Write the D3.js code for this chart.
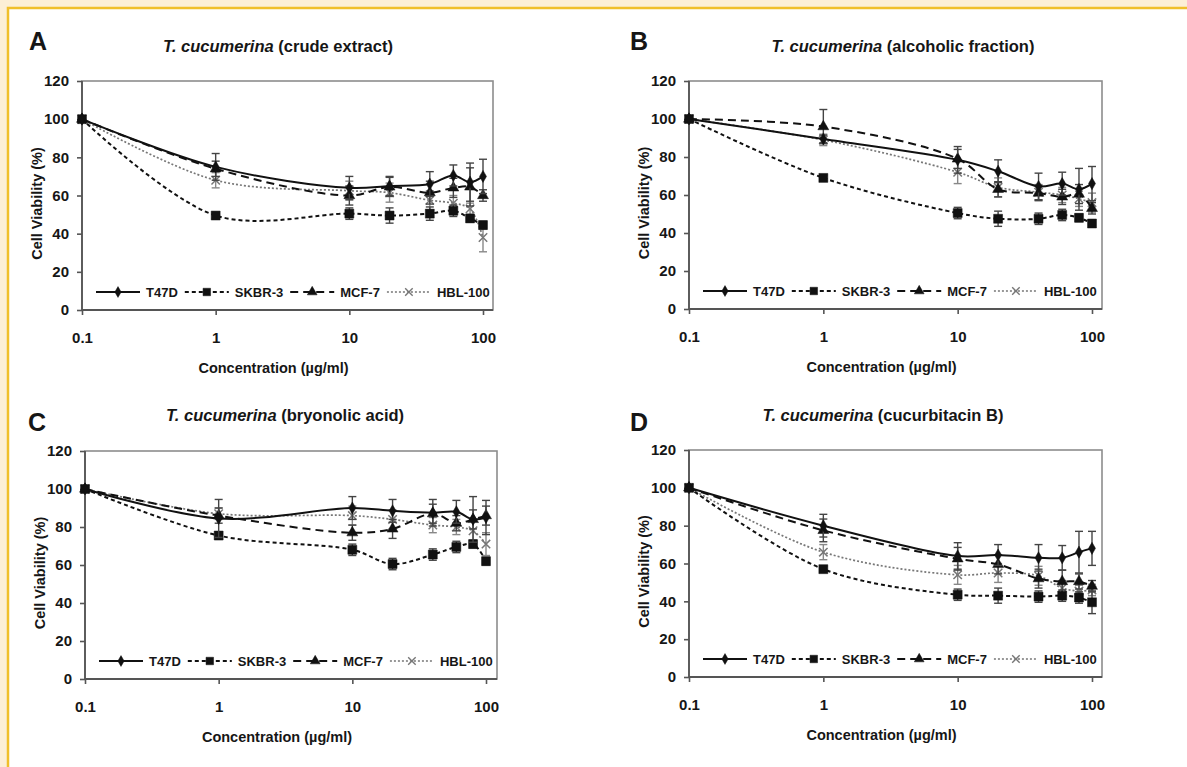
<!DOCTYPE html>
<html>
<head>
<meta charset="utf-8">
<script src="https://cdn.jsdelivr.net/npm/d3@7"></script>
<style>
  body { margin: 0; background: #fff; }
  svg { display: block; font-family: "Liberation Sans", Arial, sans-serif; }
</style>
</head>
<body>
<svg id="chart" width="1187" height="767"></svg>
<script>
// concentrations (µg/ml) and cell lines
const conc = [0.1, 1, 10, 20, 40, 60, 80, 100];
const cellLines = ["T47D", "SKBR-3", "MCF-7", "HBL-100"];
const yTicks = [0, 20, 40, 60, 80, 100, 120];
const xTicks = [0.1, 1, 10, 100];

// A - crude extract
const crudeT47D   = [100, 75, 64, 65, 66, 70.5, 67, 70];
const crudeSKBR3  = [100, 49.5, 50.5, 49.5, 50.5, 52, 48, 44.5];
const crudeMCF7   = [100, 74, 60, 64.5, 61.5, 64, 64.5, 60];
const crudeHBL100 = [100, 68, 62.5, 61.5, 57.5, 56, 53, 38];
const crudeT47DErr   = [0, 7, 6, 5, 6.5, 5.5, 10, 9];
const crudeSKBR3Err  = [0, 1.5, 3, 4, 3.5, 3, 2, 2];
const crudeMCF7Err   = [0, 4, 5, 5, 6, 5, 10, 3];
const crudeHBL100Err = [0, 4, 5, 5, 5, 4, 3, 7.5];

// B - alcoholic fraction
const alcT47D   = [100, 89.5, 78.5, 72.5, 64.5, 66, 63, 66];
const alcSKBR3  = [100, 69, 50.5, 47.5, 47.5, 49.5, 48, 45];
const alcMCF7   = [100, 96, 79, 63, 61, 59, 60.5, 53];
const alcHBL100 = [100, 89, 72, 64, 61.5, 60, 58, 56];
const alcT47DErr   = [0, 2, 7, 6, 7, 6, 11, 9];
const alcSKBR3Err  = [0, 1.5, 3, 4, 3, 3, 2, 2];
const alcMCF7Err   = [0, 9, 5, 4, 4, 4, 5, 3];
const alcHBL100Err = [0, 3, 6, 5, 4, 4, 4, 5];

// C - bryonolic acid
const bryT47D   = [100, 84.5, 90, 88.5, 87.5, 88, 84, 85];
const brySKBR3  = [100, 75.5, 68, 60.5, 65.5, 69.5, 71, 62];
const bryMCF7   = [100, 86, 77, 79, 87, 82, 84, 86];
const bryHBL100 = [100, 87, 86, 84, 81, 80, 78, 71];
const bryT47DErr   = [0, 10, 6, 6, 7, 6, 12, 9];
const brySKBR3Err  = [0, 2, 3, 3, 3, 3, 2, 2];
const bryMCF7Err   = [0, 4, 4, 5, 5, 4, 5, 5];
const bryHBL100Err = [0, 3, 5, 5, 4, 4, 5, 6];

// D - cucurbitacin B
const cucT47D   = [100, 80, 64, 64.5, 63, 63, 66, 68];
const cucSKBR3  = [100, 57, 43.5, 43, 42.5, 43, 42, 39.5];
const cucMCF7   = [100, 77.5, 62.5, 59.5, 52, 50.5, 50.5, 48];
const cucHBL100 = [100, 66, 54, 55, 53.5, 47, 45.5, 46];
const cucT47DErr   = [0, 6, 7, 5.5, 7, 6.5, 11, 9];
const cucSKBR3Err  = [0, 1.5, 3, 4, 3, 3, 3, 6];
const cucMCF7Err   = [0, 6, 6, 5, 5, 6, 4, 3];
const cucHBL100Err = [0, 4, 5, 5, 5, 4, 3, 3];

const panels = [
  {letter: "A", sub: "crude extract",
   values: [crudeT47D, crudeSKBR3, crudeMCF7, crudeHBL100],
   errors: [crudeT47DErr, crudeSKBR3Err, crudeMCF7Err, crudeHBL100Err],
   left: 82, right: 493, x100: 483, top: 81, bottom: 310,
   letterX: 29, letterY: 50, titleX: 278, titleY: 52},
  {letter: "B", sub: "alcoholic fraction",
   values: [alcT47D, alcSKBR3, alcMCF7, alcHBL100],
   errors: [alcT47DErr, alcSKBR3Err, alcMCF7Err, alcHBL100Err],
   left: 689, right: 1102, x100: 1092, top: 81, bottom: 309,
   letterX: 630, letterY: 50, titleX: 903, titleY: 52},
  {letter: "C", sub: "bryonolic acid",
   values: [bryT47D, brySKBR3, bryMCF7, bryHBL100],
   errors: [bryT47DErr, brySKBR3Err, bryMCF7Err, bryHBL100Err],
   left: 85, right: 497, x100: 486, top: 451, bottom: 679,
   letterX: 28, letterY: 431, titleX: 285, titleY: 421},
  {letter: "D", sub: "cucurbitacin B",
   values: [cucT47D, cucSKBR3, cucMCF7, cucHBL100],
   errors: [cucT47DErr, cucSKBR3Err, cucMCF7Err, cucHBL100Err],
   left: 689, right: 1102, x100: 1092, top: 450, bottom: 677,
   letterX: 630, letterY: 431, titleX: 883, titleY: 421}
];

// line / marker look for each cell line
const styles = [
  {color: "#111", dash: null,  width: 2, symbol: d3.symbolDiamond, size: 42, fill: true},
  {color: "#111", dash: "4,3", width: 2, symbol: d3.symbolSquare,  size: 80, fill: true},
  {color: "#111", dash: "8,5", width: 2, symbol: d3.symbolTriangle, size: 52, fill: true},
  {color: "#777", dash: "2,2", width: 1.7, symbol: d3.symbolTimes || d3.symbolCross, size: 48, fill: false}
];

const svg = d3.select("#chart");

// page frame: cream band with gold rule on top and left
svg.append("rect").attr("width", 1187).attr("height", 767).attr("fill", "#fcefd6");
svg.append("rect").attr("x", 9).attr("y", 9).attr("width", 1178).attr("height", 758).attr("fill", "#fff");
svg.append("path").attr("d", "M8,767V8H1187").attr("fill", "none")
  .attr("stroke", "#f0bf2a").attr("stroke-width", 2.5);

panels.forEach(drawPanel);

function drawPanel(p) {
  const g = svg.append("g");

  const x = d3.scaleLog().domain([0.1, 100]).range([p.left, p.x100]);
  const y = d3.scaleLinear().domain([0, 120]).range([p.bottom, p.top]);

  // plot frame
  g.append("rect")
    .attr("x", p.left).attr("y", p.top)
    .attr("width", p.right - p.left).attr("height", p.bottom - p.top)
    .attr("fill", "#fff").attr("stroke", "#8d8d8d").attr("stroke-width", 1.6);

  // axes
  const yAxis = g.append("g")
    .attr("transform", `translate(${p.left},0)`)
    .call(d3.axisLeft(y).tickValues(yTicks).tickSize(5).tickPadding(8).tickSizeOuter(0));
  const xAxis = g.append("g")
    .attr("transform", `translate(0,${p.bottom})`)
    .call(d3.axisBottom(x).tickValues(xTicks).tickFormat(d => String(d)).tickSize(5).tickPadding(17).tickSizeOuter(0));
  [yAxis, xAxis].forEach(a => {
    a.select(".domain").remove();
    a.selectAll("line").attr("stroke", "#555").attr("stroke-width", 1.6);
    a.selectAll("text").attr("font-size", 15).attr("font-weight", "bold").attr("fill", "#161616")
      .attr("font-family", "Liberation Sans, Arial, sans-serif");
  });
  g.append("line").attr("x1", p.left).attr("x2", p.left).attr("y1", p.top).attr("y2", p.bottom)
    .attr("stroke", "#555").attr("stroke-width", 1.8);
  g.append("line").attr("x1", p.left).attr("x2", p.right).attr("y1", p.bottom).attr("y2", p.bottom)
    .attr("stroke", "#555").attr("stroke-width", 1.8);

  // panel letter
  g.append("text").attr("x", p.letterX).attr("y", p.letterY)
    .attr("font-size", 25).attr("font-weight", "bold").attr("fill", "#161616").text(p.letter);

  // title
  const t = g.append("text").attr("x", p.titleX).attr("y", p.titleY)
    .attr("text-anchor", "middle").attr("font-size", 16.5).attr("font-weight", "bold").attr("fill", "#161616");
  t.append("tspan").attr("font-style", "italic").text("T. cucumerina");
  t.append("tspan").text(" (" + p.sub + ")");

  // axis titles
  g.append("text")
    .attr("x", (p.left + p.right) / 2 - 14).attr("y", p.bottom + 63)
    .attr("text-anchor", "middle").attr("font-size", 14.5).attr("font-weight", "bold").attr("fill", "#161616")
    .text("Concentration (\u00b5g/ml)");
  const yc = (p.top + p.bottom) / 2 + 8;
  g.append("text")
    .attr("transform", `translate(${p.left - 40},${yc}) rotate(-90)`)
    .attr("text-anchor", "middle").attr("font-size", 14.5).attr("font-weight", "bold").attr("fill", "#161616")
    .text("Cell Viability (%)");

  const line = d3.line()
    .x((d, i) => x(conc[i]))
    .y(d => y(d))
    .curve(d3.curveCatmullRom.alpha(0.5));

  // draw back-to-front: HBL-100, MCF-7, SKBR-3, T47D
  [3, 2, 1, 0].forEach(k => {
    const s = styles[k];
    const vals = p.values[k];
    const errs = p.errors[k];
    const sg = g.append("g").attr("class", "series");

    // error bars
    const eb = sg.selectAll("g.err").data(vals.map((v, i) => ({v, e: errs[i], c: conc[i]})).filter(d => d.e > 0))
      .enter().append("g").attr("class", "err")
      .attr("stroke", k === 3 ? "#888" : "#444").attr("stroke-width", 1.4);
    eb.append("line").attr("x1", d => x(d.c)).attr("x2", d => x(d.c))
      .attr("y1", d => y(d.v - d.e)).attr("y2", d => y(d.v + d.e));
    eb.append("line").attr("x1", d => x(d.c) - 4).attr("x2", d => x(d.c) + 4)
      .attr("y1", d => y(d.v + d.e)).attr("y2", d => y(d.v + d.e));
    eb.append("line").attr("x1", d => x(d.c) - 4).attr("x2", d => x(d.c) + 4)
      .attr("y1", d => y(d.v - d.e)).attr("y2", d => y(d.v - d.e));

    sg.append("path").attr("d", line(vals))
      .attr("fill", "none").attr("stroke", s.color).attr("stroke-width", s.width)
      .attr("stroke-dasharray", s.dash);

    sg.selectAll("path.mark").data(vals).enter().append("path")
      .attr("class", "mark")
      .attr("transform", (d, i) => `translate(${x(conc[i])},${y(d)})`)
      .attr("d", d3.symbol(s.symbol, s.size))
      .attr("fill", s.fill ? s.color : "none")
      .attr("stroke", s.color).attr("stroke-width", s.fill ? 0.5 : 1.5);
  });

  // legend
  const lg = g.append("g").attr("transform", `translate(${p.left + 14},${p.bottom - 18})`);
  let cx = 0;
  cellLines.forEach((name, k) => {
    const s = styles[k];
    lg.append("line").attr("x1", cx).attr("x2", cx + 44).attr("y1", 0).attr("y2", 0)
      .attr("stroke", s.color).attr("stroke-width", s.width).attr("stroke-dasharray", s.dash);
    lg.append("path").attr("transform", `translate(${cx + 22},0)`)
      .attr("d", d3.symbol(s.symbol, k === 1 ? 56 : s.size * 0.8))
      .attr("fill", s.fill ? s.color : "none")
      .attr("stroke", s.color).attr("stroke-width", s.fill ? 0.5 : 1.4);
    const lbl = lg.append("text").attr("x", cx + 50).attr("y", 5)
      .attr("font-size", 13).attr("font-weight", "bold").attr("fill", "#161616").text(name);
    cx += 50 + lbl.node().getComputedTextLength() + 7;
  });
}
</script>
</body>
</html>
